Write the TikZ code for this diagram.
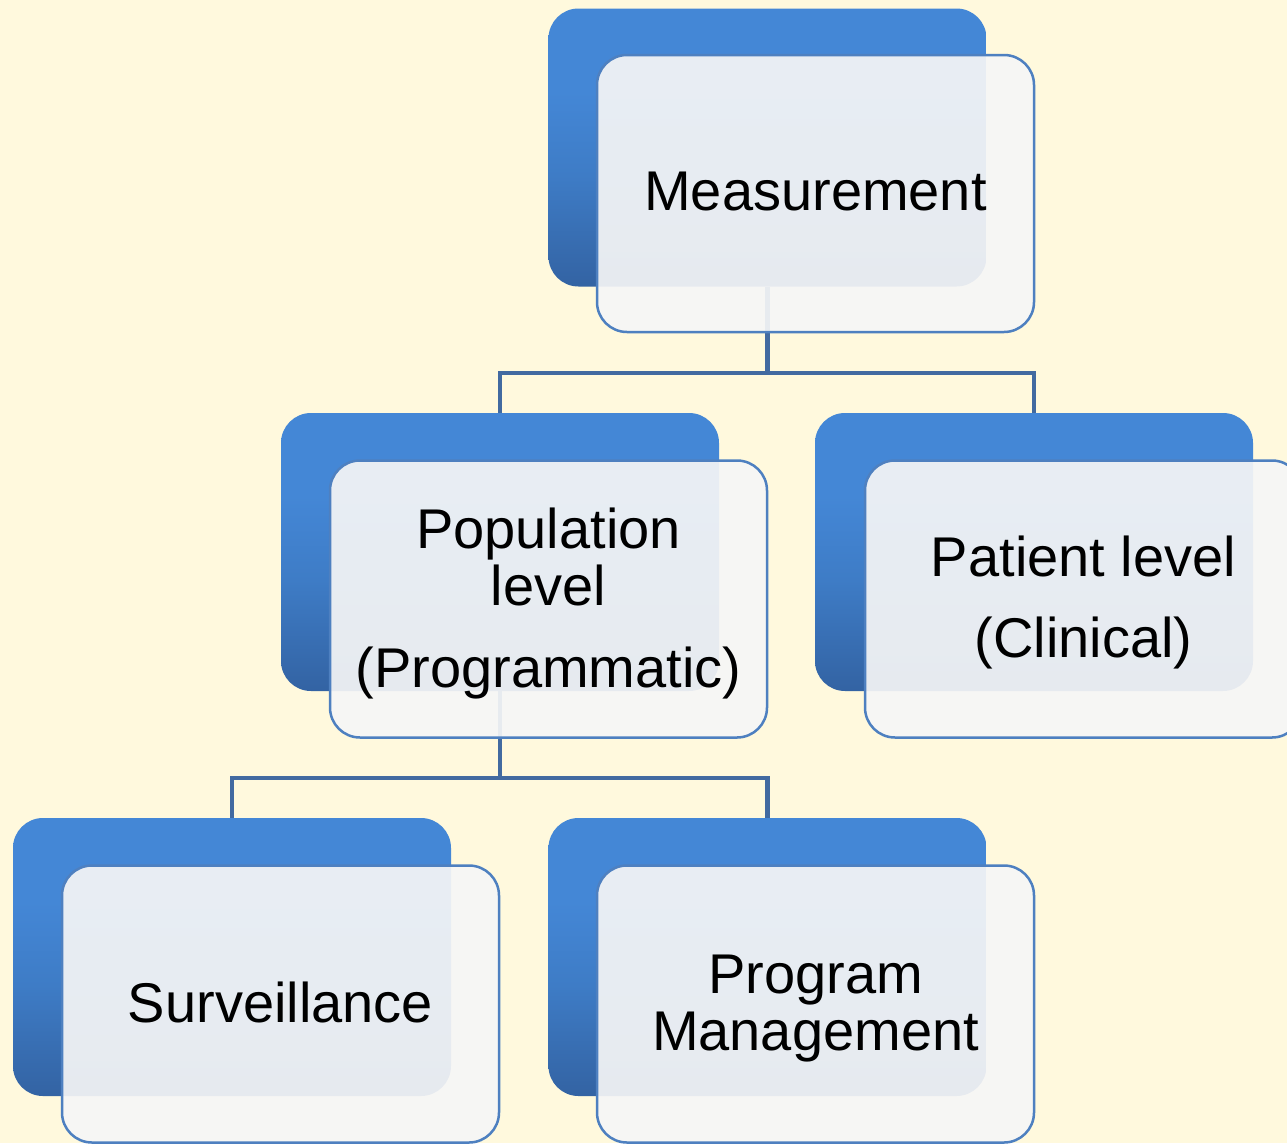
\documentclass[tikz,border=0pt]{standalone}
\usepackage{fontspec}
\setmainfont{Liberation Sans}
\definecolor{bgc}{RGB}{255,249,221}
\definecolor{blueT}{RGB}{68,135,214}
\definecolor{blueM}{RGB}{62,124,198}
\definecolor{blueB}{RGB}{51,99,163}
\definecolor{frontfill}{RGB}{246,246,246}
\definecolor{frontedge}{RGB}{78,128,192}
\definecolor{linkc}{RGB}{66,106,160}
\pgfdeclareverticalshading{bluebox}{100bp}{color(0bp)=(blueB); color(25bp)=(blueB); color(45bp)=(blueM); color(60bp)=(blueT); color(75bp)=(blueT); color(100bp)=(blueT)}
\tikzset{
  backbox/.style={rectangle, rounded corners=30pt, minimum width=438pt, minimum height=278pt,
    shading=bluebox, draw=none, inner sep=0pt},
  frontbox/.style={rectangle, rounded corners=30pt, minimum width=437pt, minimum height=277pt,
    fill=frontfill, fill opacity=0.92, draw=frontedge, draw opacity=1, line width=2.5pt, inner sep=0pt},
  link/.style={draw=linkc, line width=4.5pt},
  lbl/.style={font=\fontsize{56}{57}\selectfont, text=black, anchor=base, inner sep=0pt}
}
\begin{document}
\begin{tikzpicture}[x=1pt,y=-1pt]
\fill[bgc] (0,0) rectangle (1287,1143);
\useasboundingbox (0,0) rectangle (1287,1143);
\clip (0,0) rectangle (1287,1143);
% back boxes
\node[backbox] (mb) at (767.5,147.5) {};
\node[backbox] (popb) at (500,552) {};
\node[backbox] (patb) at (1034,552) {};
\node[backbox] (surb) at (232,957) {};
\node[backbox] (pmb) at (767.5,957) {};
% connectors
\coordinate (j1) at (767.5,373);
\coordinate (j2) at (500,778);
\draw[link] (mb.south) -- (j1) -| (popb.north);
\draw[link] (j1) -| (patb.north);
\draw[link] (popb.south) -- (j2) -| (surb.north);
\draw[link] (j2) -| (pmb.north);
% front boxes
\node[frontbox] (mf) at (815.5,193.5) {};
\node[frontbox] (popf) at (548.5,599) {};
\node[frontbox] (patf) at (1083.5,599) {};
\node[frontbox] (surf) at (280.5,1004) {};
\node[frontbox] (pmf) at (815.5,1004) {};
% labels
\node[lbl] (mt) at (815.5,210) {Measurement};
\node[lbl] (pop1) at (548.5,548) {Population};
\node[lbl] (pop2) at (548.5,605) {level};
\node[lbl] (pop3) at (548.5,687) {(Programmatic)};
\node[lbl] (pat1) at (1083.5,576) {Patient level};
\node[lbl] (pat2) at (1083.5,657) {(Clinical)};
\node[lbl] (surt) at (280.5,1022) {Surveillance};
\node[lbl] (pm1) at (815.5,993) {Program};
\node[lbl] (pm2) at (815.5,1050) {Management};
\end{tikzpicture}
\end{document}
